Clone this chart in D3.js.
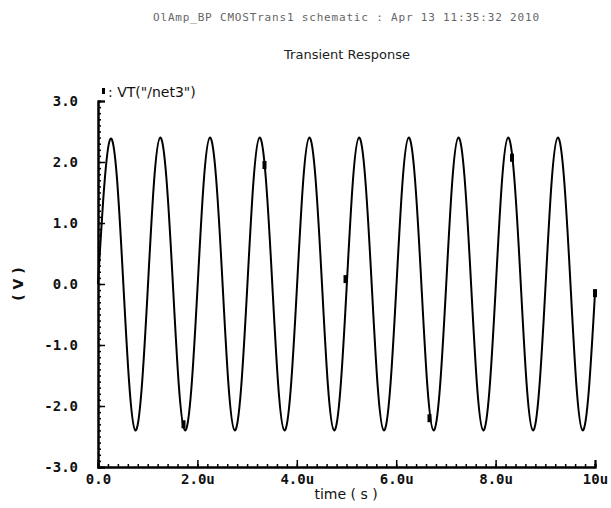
<!DOCTYPE html>
<html>
<head>
<meta charset="utf-8">
<script src="https://cdn.jsdelivr.net/npm/d3@7"></script>
<style>
  body { margin: 0; background: #fff; }
  svg { display: block; }
</style>
</head>
<body>
<script>
// transient response of VT("/net3") (time in us, volts)
var times = [0, 0.125, 0.25, 0.375, 0.5, 0.625, 0.75, 0.875,
  1, 1.125, 1.25, 1.375, 1.5, 1.625, 1.75, 1.875,
  2, 2.125, 2.25, 2.375, 2.5, 2.625, 2.75, 2.875,
  3, 3.125, 3.25, 3.375, 3.5, 3.625, 3.75, 3.875,
  4, 4.125, 4.25, 4.375, 4.5, 4.625, 4.75, 4.875,
  5, 5.125, 5.25, 5.375, 5.5, 5.625, 5.75, 5.875,
  6, 6.125, 6.25, 6.375, 6.5, 6.625, 6.75, 6.875,
  7, 7.125, 7.25, 7.375, 7.5, 7.625, 7.75, 7.875,
  8, 8.125, 8.25, 8.375, 8.5, 8.625, 8.75, 8.875,
  9, 9.125, 9.25, 9.375, 9.5, 9.625, 9.75, 9.875, 10];
var volts = [0.0, 1.6, 2.38, 1.8, 0.15, -1.6, -2.4, -1.75,
  -0.1, 1.65, 2.4, 1.75, 0.1, -1.65, -2.4, -1.75,
  -0.1, 1.65, 2.4, 1.75, 0.1, -1.65, -2.4, -1.75,
  -0.1, 1.65, 2.4, 1.75, 0.1, -1.65, -2.4, -1.75,
  -0.1, 1.65, 2.4, 1.75, 0.1, -1.65, -2.4, -1.75,
  -0.1, 1.65, 2.4, 1.75, 0.1, -1.65, -2.4, -1.75,
  -0.1, 1.65, 2.4, 1.75, 0.1, -1.65, -2.4, -1.75,
  -0.1, 1.65, 2.4, 1.75, 0.1, -1.65, -2.4, -1.75,
  -0.1, 1.65, 2.4, 1.75, 0.1, -1.65, -2.4, -1.75,
  -0.1, 1.65, 2.4, 1.75, 0.1, -1.65, -2.4, -1.75, -0.15];

// little trace markers sitting on the curve
var markTimes = [1.72, 3.35, 4.98, 6.67, 8.33, 10];
var markVolts = [-2.3, 1.95, 0.08, -2.2, 2.07, -0.15];

var xTicks = [0, 2, 4, 6, 8, 10];
var xTickLabels = ["0.0", "2.0u", "4.0u", "6.0u", "8.0u", "10u"];
var yTicks = [-3, -2, -1, 0, 1, 2, 3];
var yTickLabels = ["-3.0", "-2.0", "-1.0", "0.0", "1.0", "2.0", "3.0"];

var titleText = "OlAmp_BP CMOSTrans1 schematic : Apr 13 11:35:32 2010";
var subTitle = "Transient Response";
var legendText = "VT(\"/net3\")";

var w = 611, h = 508;
// plot box edges (window.top is taken, so no bare "top")
var padL = 98, padR = 595, padT = 101, padB = 467;

var svg = d3.select("body").append("svg")
  .attr("width", w)
  .attr("height", h);

var x = d3.scaleLinear().domain([0, 10]).range([padL, padR]);
var y = d3.scaleLinear().domain([-3, 3]).range([padB, padT]);

var mono = "'DejaVu Sans Mono', monospace";

// header
svg.append("text")
  .attr("x", 346).attr("y", 21)
  .attr("text-anchor", "middle")
  .attr("textLength", 386)
  .attr("font-family", mono)
  .attr("font-size", 11)
  .attr("fill", "#666")
  .text(titleText);

svg.append("text")
  .attr("x", 347).attr("y", 59)
  .attr("text-anchor", "middle")
  .attr("font-family", "'DejaVu Sans', sans-serif")
  .attr("font-size", 13)
  .attr("fill", "#222")
  .text(subTitle);

// minor ticks
svg.append("g")
  .attr("transform", "translate(" + padL + ",0)")
  .call(d3.axisLeft(y).tickValues(d3.range(-30, 31).map(function(d){ return d / 10; }))
    .tickSize(-3).tickFormat(""));
svg.append("g")
  .attr("transform", "translate(0," + padB + ")")
  .call(d3.axisBottom(x).tickValues(d3.range(0, 51).map(function(d){ return d / 5; }))
    .tickSize(-3).tickFormat(""));

// major ticks + labels
svg.append("g")
  .attr("transform", "translate(" + padL + ",0)")
  .call(d3.axisLeft(y).tickValues(yTicks).tickSize(-7).tickPadding(20)
    .tickFormat(function(d, i){ return yTickLabels[i]; }));
svg.append("g")
  .attr("transform", "translate(0," + padB + ")")
  .call(d3.axisBottom(x).tickValues(xTicks).tickSize(-7).tickPadding(7)
    .tickFormat(function(d, i){ return xTickLabels[i]; }));

svg.selectAll(".domain").attr("stroke", "#000").attr("stroke-width", 2);
svg.selectAll(".tick line").attr("stroke", "#000").attr("stroke-width", 1.5);
svg.selectAll(".tick text")
  .attr("font-family", mono)
  .attr("font-weight", "bold")
  .attr("font-size", 14)
  .attr("fill", "#111");

// axis titles
svg.append("text")
  .attr("x", 346).attr("y", 499)
  .attr("text-anchor", "middle")
  .attr("font-family", "'DejaVu Sans', sans-serif")
  .attr("font-size", 14)
  .attr("fill", "#111")
  .text("time ( s )");

svg.append("text")
  .attr("transform", "translate(23,284) rotate(-90)")
  .attr("text-anchor", "middle")
  .attr("font-family", "'DejaVu Sans', sans-serif")
  .attr("font-weight", "bold")
  .attr("font-size", 14)
  .attr("fill", "#111")
  .text("( V )");

// trace
var pts = times.map(function(t, i){ return [t, volts[i]]; });
var line = d3.line()
  .x(function(d){ return x(d[0]); })
  .y(function(d){ return y(d[1]); })
  .curve(d3.curveNatural);

svg.append("path")
  .datum(pts)
  .attr("d", line)
  .attr("fill", "none")
  .attr("stroke", "#000")
  .attr("stroke-width", 2);

svg.selectAll("rect.mark")
  .data(markTimes)
  .enter()
  .append("rect")
  .attr("class", "mark")
  .attr("x", function(d){ return x(d) - 2; })
  .attr("y", function(d, i){ return y(markVolts[i]) - 4; })
  .attr("width", 4)
  .attr("height", 8)
  .attr("fill", "#000");

// legend
svg.append("rect")
  .attr("x", 102).attr("y", 88)
  .attr("width", 3).attr("height", 6)
  .attr("fill", "#000");
svg.append("text")
  .attr("x", 108).attr("y", 97)
  .attr("font-family", "'DejaVu Sans', sans-serif")
  .attr("font-size", 14)
  .attr("fill", "#111")
  .text(": " + legendText);
</script>
</body>
</html>
